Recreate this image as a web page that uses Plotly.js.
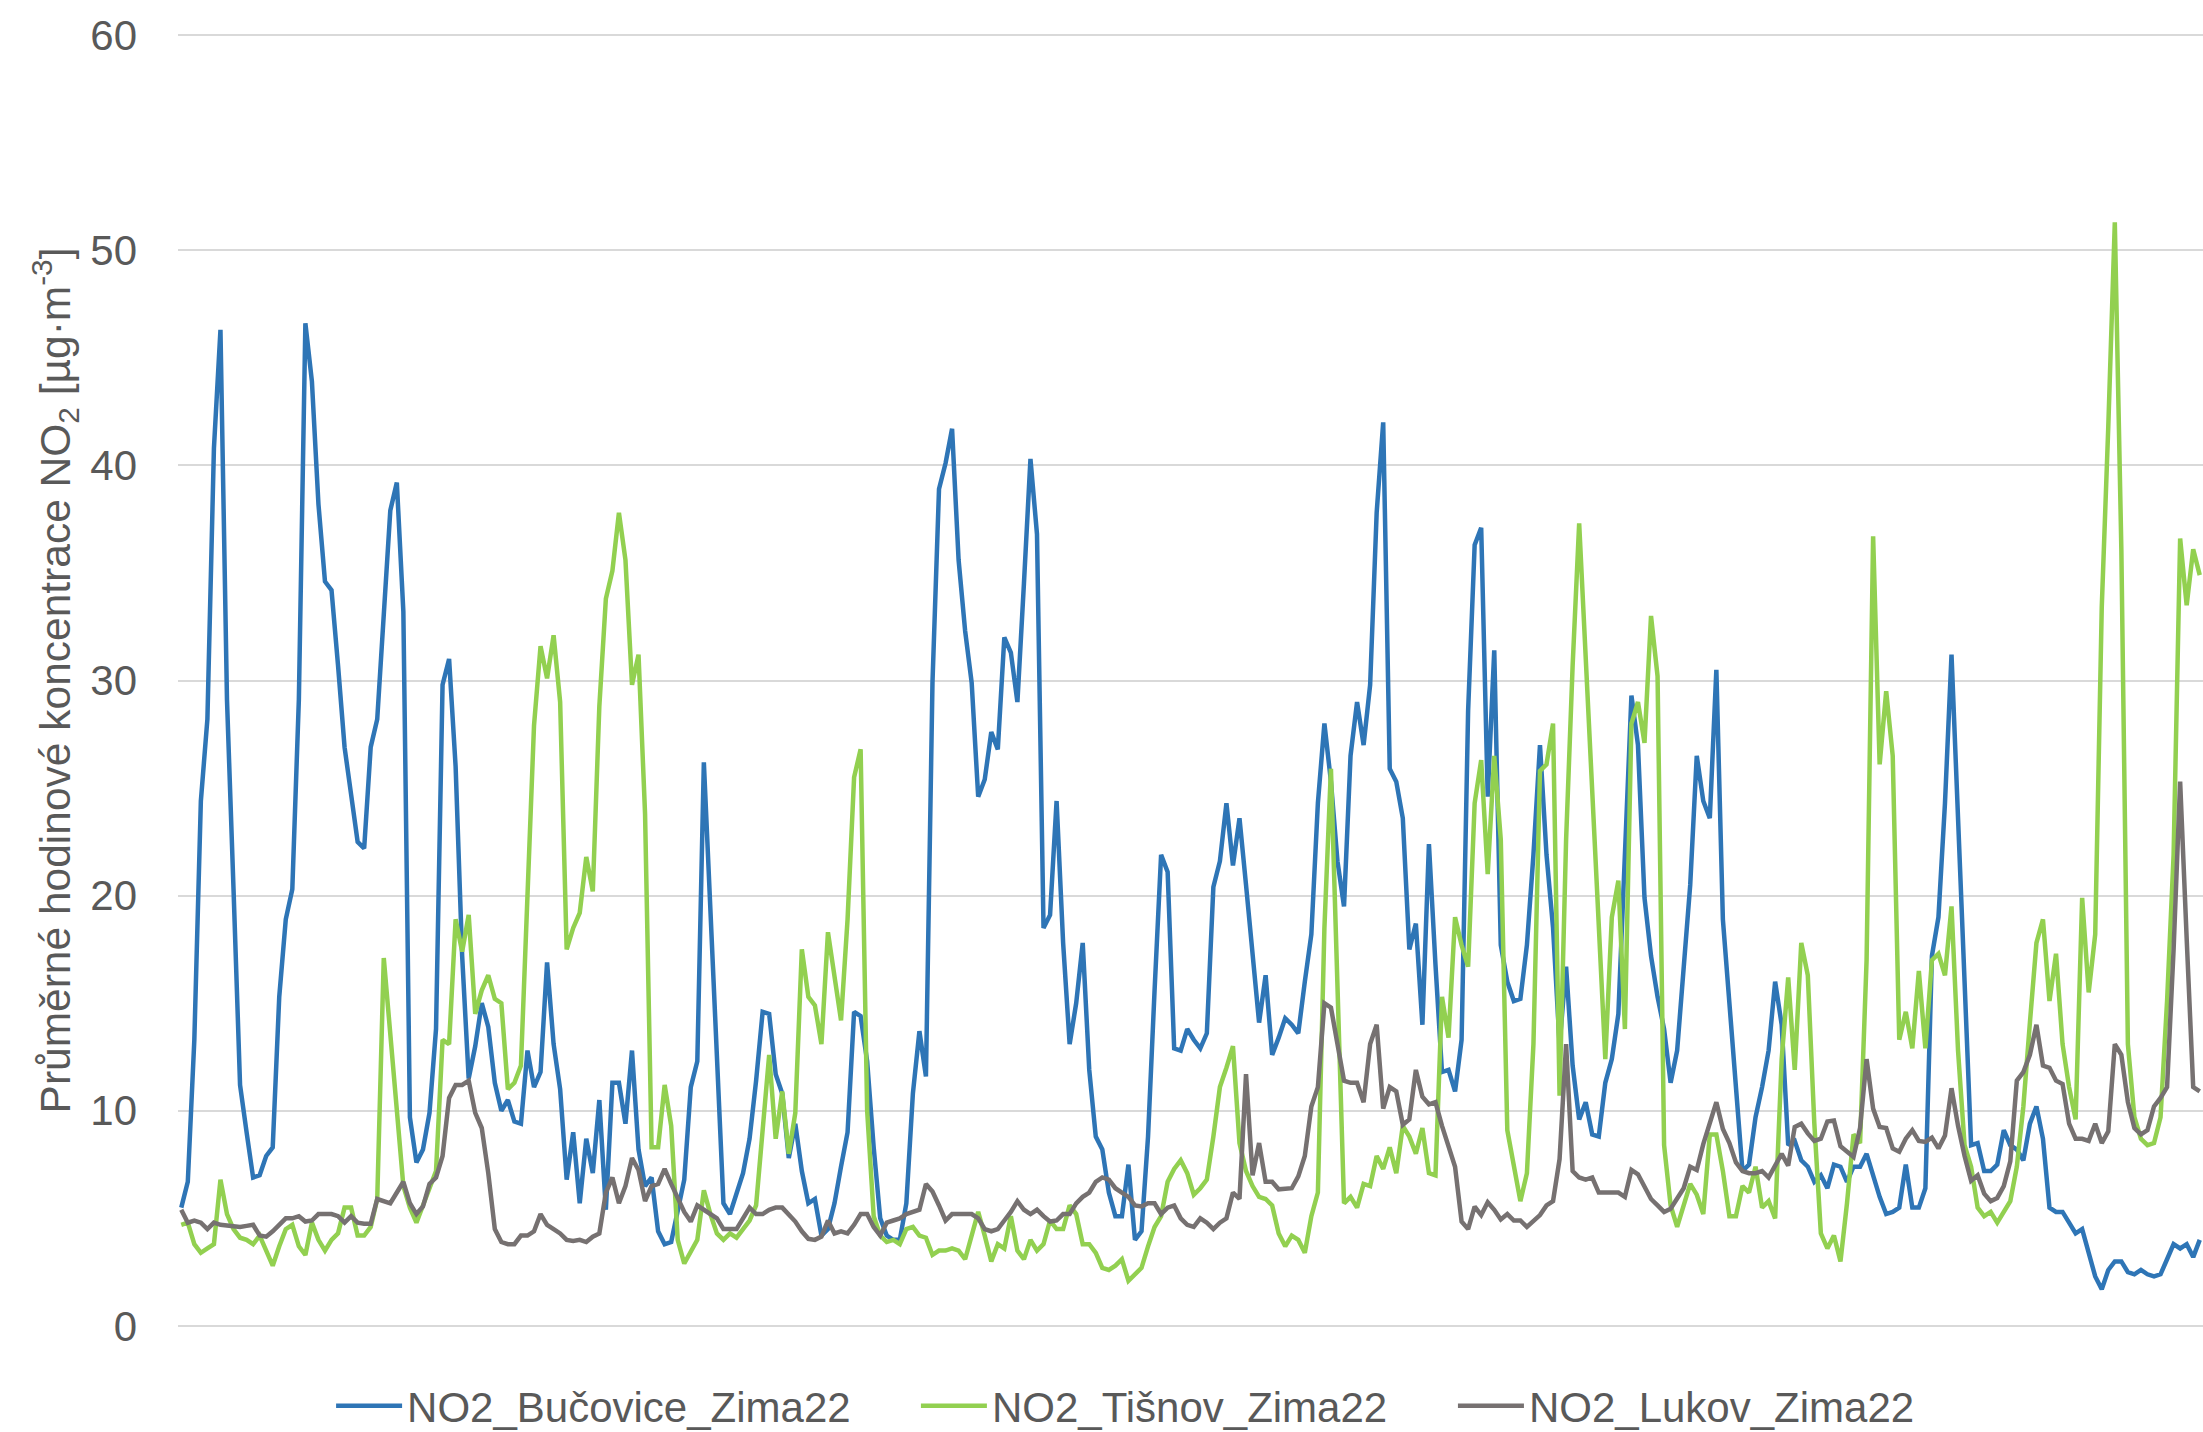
<!DOCTYPE html>
<html>
<head>
<meta charset="utf-8">
<script src="https://cdn.plot.ly/plotly-3.0.1.min.js"></script>
<style>
  html, body { margin: 0; padding: 0; background: #ffffff; }
  #chart { width: 2203px; height: 1432px; }
</style>
</head>
<body>
<div id="chart"></div>
<script>
// Series names (legend labels)
const seriesNames = ["NO2_Bučovice_Zima22", "NO2_Tišnov_Zima22", "NO2_Lukov_Zima22"];

// Average hourly NO2 concentrations (µg·m-3)
const bucovice = [
  5.5, 6.7, 13.3, 24.4, 28.2, 40.8, 46.3, 29.1, 20.3, 11.2,
  9.0, 6.9, 7.0, 7.9, 8.3, 15.3, 18.9, 20.3, 29.1, 46.6,
  43.9, 38.2, 34.6, 34.2, 30.7, 26.9, 24.7, 22.5, 22.2, 26.9,
  28.2, 32.9, 37.9, 39.2, 33.2, 9.7, 7.6, 8.2, 9.9, 13.8,
  29.8, 31.0, 26.0, 17.2, 11.5, 13.0, 15.0, 13.9, 11.3, 10.0,
  10.5, 9.5, 9.4, 12.8, 11.1, 11.8, 16.9, 13.1, 11.0, 6.8,
  9.0, 5.7, 8.7, 7.1, 10.5, 5.4, 11.3, 11.3, 9.4, 12.8,
  8.2, 6.5, 6.9, 4.4, 3.8, 3.9, 5.4, 6.8, 11.1, 12.3,
  26.2, 19.1, 12.5, 5.7, 5.2, 6.2, 7.1, 8.7, 11.4, 14.6,
  14.5, 11.7, 10.8, 7.8, 9.4, 7.2, 5.7, 5.9, 4.2, 4.5,
  5.7, 7.4, 9.0, 14.6, 14.4, 12.3, 8.3, 5.0, 4.2, 4.0,
  4.0, 5.7, 10.8, 13.7, 11.6, 29.9, 38.9, 40.1, 41.7, 35.6,
  32.3, 29.9, 24.6, 25.4, 27.6, 26.8, 32.0, 31.3, 29.0, 34.5,
  40.3, 36.8, 18.5, 19.1, 24.4, 17.8, 13.1, 15.0, 17.8, 11.9,
  8.8, 8.2, 6.2, 5.1, 5.1, 7.5, 4.0, 4.4, 8.8, 15.6,
  21.9, 21.1, 12.9, 12.8, 13.8, 13.3, 12.9, 13.6, 20.4, 21.6,
  24.3, 21.4, 23.6, 20.5, 17.2, 14.1, 16.3, 12.6, 13.4, 14.3,
  14.0, 13.6, 16.0, 18.2, 24.3, 28.0, 25.3, 21.6, 19.5, 26.5,
  29.0, 27.0, 29.8, 37.8, 42.0, 25.9, 25.3, 23.6, 17.5, 18.7,
  14.0, 22.4, 16.8, 11.8, 11.9, 10.9, 13.3, 28.6, 36.3, 37.1,
  24.6, 31.4, 17.7, 16.0, 15.1, 15.2, 17.7, 21.9, 27.0, 21.9,
  18.5, 13.1, 16.7, 12.1, 9.6, 10.4, 8.9, 8.8, 11.3, 12.4,
  14.5, 22.1, 29.3, 27.0, 19.9, 17.2, 15.3, 13.8, 11.3, 12.8,
  16.8, 20.5, 26.5, 24.4, 23.6, 30.5, 18.9, 14.8, 11.1, 7.2,
  7.5, 9.7, 11.1, 12.8, 16.0, 14.0, 8.4, 8.6, 7.7, 7.4,
  6.7, 7.0, 6.4, 7.5, 7.4, 6.7, 7.4, 7.4, 8.0, 7.0,
  6.0, 5.2, 5.3, 5.5, 7.5, 5.5, 5.5, 6.4, 17.2, 19.0,
  24.3, 31.2, 23.2, 15.8, 8.4, 8.5, 7.2, 7.2, 7.5, 9.1,
  8.4, 8.2, 7.7, 9.4, 10.2, 8.7, 5.5, 5.3, 5.3, 4.8,
  4.3, 4.5, 3.3, 2.3, 1.7, 2.6, 3.0, 3.0, 2.5, 2.4,
  2.6, 2.4, 2.3, 2.4, 3.1, 3.8, 3.6, 3.8, 3.2, 4.0
];

const tisnov = [
  4.7, 4.8, 3.8, 3.4, 3.6, 3.8, 6.8, 5.2, 4.5, 4.1,
  4.0, 3.8, 4.2, 3.5, 2.8, 3.7, 4.5, 4.7, 3.7, 3.3,
  4.8, 4.0, 3.5, 4.0, 4.3, 5.5, 5.5, 4.2, 4.2, 4.6,
  5.9, 17.1, 13.5, 9.5, 6.5, 5.5, 4.8, 5.6, 6.4, 7.2,
  13.3, 13.1, 18.9, 17.4, 19.1, 14.5, 15.6, 16.3, 15.2, 15.0,
  11.0, 11.3, 12.1, 20.0, 27.9, 31.6, 30.1, 32.1, 29.0, 17.5,
  18.5, 19.2, 21.8, 20.2, 28.8, 33.8, 35.1, 37.8, 35.6, 29.8,
  31.2, 23.8, 8.3, 8.3, 11.2, 9.3, 4.0, 2.9, 3.4, 4.0,
  6.3, 5.2, 4.3, 4.0, 4.3, 4.1, 4.5, 4.9, 5.6, 9.0,
  12.6, 8.7, 10.9, 8.0, 9.9, 17.5, 15.3, 14.9, 13.1, 18.3,
  16.3, 14.2, 18.9, 25.5, 26.8, 10.0, 5.1, 4.2, 3.9, 4.0,
  3.8, 4.5, 4.6, 4.2, 4.1, 3.3, 3.5, 3.5, 3.6, 3.5,
  3.1, 4.2, 5.3, 4.2, 3.0, 3.8, 3.6, 5.1, 3.5, 3.1,
  4.0, 3.5, 3.8, 4.9, 4.5, 4.5, 5.6, 5.2, 3.8, 3.8,
  3.4, 2.7, 2.6, 2.8, 3.1, 2.1, 2.4, 2.7, 3.7, 4.6,
  5.1, 6.7, 7.3, 7.7, 7.1, 6.1, 6.4, 6.8, 8.8, 11.1,
  12.0, 13.0, 8.5, 7.2, 6.5, 6.0, 5.9, 5.6, 4.3, 3.7,
  4.2, 4.0, 3.4, 5.1, 6.2, 18.5, 25.9, 16.0, 5.7, 6.0,
  5.5, 6.6, 6.5, 7.9, 7.3, 8.3, 7.1, 9.3, 8.8, 8.0,
  9.2, 7.1, 7.0, 15.3, 13.4, 19.0, 17.7, 16.7, 24.3, 26.3,
  21.0, 26.5, 22.6, 9.1, 7.5, 5.8, 7.1, 13.1, 25.8, 26.1,
  28.0, 10.7, 22.6, 30.7, 37.3, 31.0, 24.6, 18.5, 12.4, 19.0,
  20.7, 13.8, 28.0, 29.0, 27.1, 33.0, 30.2, 8.4, 5.6, 4.6,
  5.6, 6.6, 6.1, 5.2, 8.9, 8.9, 7.2, 5.1, 5.1, 6.5,
  6.2, 7.4, 5.5, 5.8, 5.0, 12.4, 16.2, 11.9, 17.8, 16.3,
  9.4, 4.3, 3.6, 4.2, 3.0, 5.7, 8.9, 8.5, 17.0, 36.7,
  26.1, 29.5, 26.5, 13.3, 14.6, 12.9, 16.5, 12.9, 17.0, 17.3,
  16.3, 19.5, 12.8, 8.4, 7.4, 5.5, 5.1, 5.3, 4.8, 5.3,
  5.8, 7.4, 10.2, 14.1, 17.8, 18.9, 15.1, 17.3, 13.1, 11.1,
  9.6, 19.9, 15.5, 18.2, 33.4, 41.8, 51.3, 36.1, 13.1, 9.7,
  8.7, 8.4, 8.5, 9.7, 15.1, 21.9, 36.6, 33.5, 36.1, 34.9
];

const lukov = [
  5.4, 4.8, 4.9, 4.8, 4.5, 4.8, 4.7, 4.65, 4.6, 4.6,
  4.65, 4.7, 4.2, 4.15, 4.4, 4.7, 5.0, 5.0, 5.1, 4.85,
  4.9, 5.2, 5.2, 5.2, 5.1, 4.8, 5.1, 4.8, 4.75, 4.75,
  5.9, 5.8, 5.7, 6.2, 6.7, 5.7, 5.2, 5.55, 6.6, 6.9,
  7.9, 10.6, 11.2, 11.2, 11.4, 9.9, 9.2, 7.1, 4.5, 3.9,
  3.8, 3.8, 4.2, 4.2, 4.4, 5.2, 4.7, 4.5, 4.3, 4.0,
  3.95, 4.0, 3.9, 4.15, 4.3, 6.2, 6.9, 5.7, 6.5, 7.8,
  7.25, 5.8, 6.5, 6.6, 7.3, 6.6, 5.9, 5.3, 4.85, 5.6,
  5.4, 5.2, 5.0, 4.5, 4.5, 4.5, 5.0, 5.5, 5.2, 5.2,
  5.4, 5.5, 5.5, 5.2, 4.85, 4.4, 4.05, 4.0, 4.15, 4.9,
  4.3, 4.4, 4.3, 4.7, 5.2, 5.2, 4.6, 4.2, 4.8, 4.9,
  5.0, 5.2, 5.3, 5.4, 6.6, 6.25, 5.6, 4.9, 5.2, 5.2,
  5.2, 5.2, 5.0, 4.5, 4.4, 4.5, 4.9, 5.3, 5.8, 5.4,
  5.2, 5.4, 5.1, 4.85, 4.9, 5.2, 5.2, 5.7, 6.0, 6.2,
  6.7, 6.9, 6.8, 6.4, 6.2, 6.0, 5.6, 5.55, 5.7, 5.7,
  5.2, 5.5, 5.6, 5.0, 4.7, 4.6, 5.0, 4.8, 4.5, 4.8,
  5.0, 6.2, 5.9, 11.7, 7.0, 8.5, 6.7, 6.7, 6.35, 6.4,
  6.4, 6.95, 7.9, 10.2, 11.1, 15.0, 14.8, 13.1, 11.4, 11.3,
  11.3, 10.4, 13.1, 14.0, 10.1, 11.1, 10.9, 9.35, 9.6, 11.9,
  10.65, 10.3, 10.4, 9.3, 8.3, 7.4, 4.85, 4.5, 5.55, 5.15,
  5.75, 5.4, 4.95, 5.2, 4.9, 4.9, 4.6, 4.9, 5.15, 5.6,
  5.8, 7.75, 13.1, 7.2, 6.9, 6.8, 6.9, 6.2, 6.2, 6.2,
  6.2, 6.0, 7.25, 7.05, 6.5, 5.9, 5.6, 5.3, 5.45, 5.95,
  6.4, 7.4, 7.25, 8.45, 9.45, 10.4, 9.15, 8.5, 7.6, 7.2,
  7.1, 7.1, 7.2, 6.9, 7.45, 8.0, 7.45, 9.25, 9.4, 8.95,
  8.6, 8.7, 9.5, 9.55, 8.35, 8.1, 7.85, 9.2, 12.4, 10.1,
  9.25, 9.2, 8.25, 8.1, 8.7, 9.1, 8.6, 8.55, 8.75, 8.25,
  8.85, 11.05, 9.3, 7.9, 6.75, 7.0, 6.15, 5.8, 5.95, 6.5,
  7.65, 11.4, 11.8, 12.6, 14.0, 12.1, 12.0, 11.4, 11.25, 9.4,
  8.7, 8.7, 8.6, 9.4, 8.5, 9.05, 13.1, 12.6, 10.4, 9.2,
  8.9, 9.1, 10.2, 10.6, 11.1, 17.5, 25.3, 18.0, 11.1, 10.9
];

// y-axis tick values / labels
const yTickVals = [0, 10, 20, 30, 40, 50, 60];
const yTickText = ["0", "10", "20", "30", "40", "50", "60"];

const hourIndex = bucovice.map((_, i) => i);

const FONT = "Liberation Sans, Arial, sans-serif";
const TEXT_COLOR = "#595959";
const LINE_W = 4.5;

const traces = [
  { x: hourIndex, y: bucovice, name: seriesNames[0], type: "scatter", mode: "lines",
    line: { color: "#2E75B6", width: LINE_W }, legend: "legend" },
  { x: hourIndex, y: tisnov, name: seriesNames[1], type: "scatter", mode: "lines",
    line: { color: "#92D050", width: LINE_W }, legend: "legend2" },
  { x: hourIndex, y: lukov, name: seriesNames[2], type: "scatter", mode: "lines",
    line: { color: "#767171", width: LINE_W }, legend: "legend3" }
];

function legendAt(xPaper) {
  return {
    orientation: "h",
    x: xPaper, xanchor: "left",
    y: -0.061, yanchor: "middle",
    font: { family: FONT, size: 42, color: TEXT_COLOR },
    itemwidth: 66,
    bgcolor: "rgba(0,0,0,0)"
  };
}

const layout = {
  width: 2203,
  height: 1432,
  paper_bgcolor: "#ffffff",
  plot_bgcolor: "#ffffff",
  margin: { l: 178, r: 0, t: 34, b: 105, pad: 0, autoexpand: false },
  font: { family: FONT, color: TEXT_COLOR, size: 42 },
  showlegend: true,
  legend: legendAt(0.0756),
  legend2: legendAt(0.3644),
  legend3: legendAt(0.6296),
  xaxis: {
    range: [-0.5, bucovice.length - 0.5],
    showticklabels: false,
    showgrid: false,
    zeroline: false,
    showline: false,
    ticks: ""
  },
  yaxis: {
    range: [-0.05, 60.05],
    tickvals: yTickVals,
    ticktext: yTickText,
    showgrid: true,
    gridcolor: "#d9d9d9",
    gridwidth: 2,
    zeroline: false,
    showline: false,
    ticks: "",
    ticklabelstandoff: 40,
    tickfont: { family: FONT, size: 42, color: TEXT_COLOR },
    title: {
      text: "Průměrné hodinové koncentrace NO<sub>2</sub> [µg·m<sup>-3</sup>]",
      font: { family: FONT, size: 42.5, color: TEXT_COLOR },
      standoff: 6
    }
  }
};

Plotly.newPlot("chart", traces, layout, { staticPlot: true, displayModeBar: false });
</script>
</body>
</html>
